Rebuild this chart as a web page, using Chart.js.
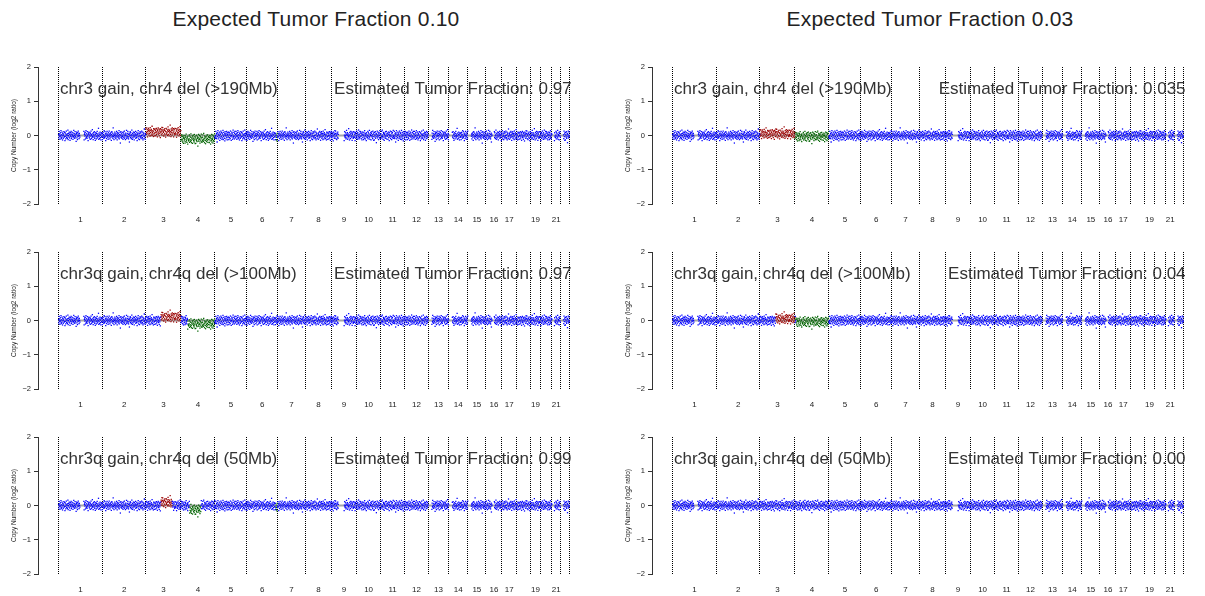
<!DOCTYPE html>
<html><head><meta charset="utf-8">
<script src="https://cdn.jsdelivr.net/npm/chart.js@4/dist/chart.umd.min.js"></script>
<style>
html,body{margin:0;padding:0;background:#fff;width:1205px;height:596px;overflow:hidden;position:relative;font-family:"Liberation Sans",Arial,sans-serif}
.title{position:absolute;top:8px;font-size:21px;letter-spacing:0.2px;line-height:22px;color:#222;text-align:center;width:560px}
canvas{position:absolute}
</style></head><body>
<div class="title" style="left:36px">Expected Tumor Fraction 0.10</div>
<div class="title" style="left:650px">Expected Tumor Fraction 0.03</div>
<canvas id="c0" width="594" height="177" style="left:0;top:57px"></canvas>
<canvas id="c1" width="594" height="177" style="left:614px;top:57px"></canvas>
<canvas id="c2" width="594" height="177" style="left:0;top:242px"></canvas>
<canvas id="c3" width="594" height="177" style="left:614px;top:242px"></canvas>
<canvas id="c4" width="594" height="177" style="left:0;top:427px"></canvas>
<canvas id="c5" width="594" height="177" style="left:614px;top:427px"></canvas>
<script>
// ---- data ----
const chromNames = ['1','2','3','4','5','6','7','8','9','10','11','12','13','14','15','16','17','18','19','20','21','22'];
const chromShownLabels = ['1','2','3','4','5','6','7','8','9','10','11','12','13','14','15','16','17','','19','','21',''];
const chromLenMb = [249.3,243.2,198.0,191.2,180.9,171.1,159.1,146.4,141.2,135.5,135.0,133.9,115.2,107.3,102.5,90.4,81.2,78.1,59.1,63.0,48.1,51.3];
const noDataChr = [1,9,16,13,14,15,21,22];
const noDataStartMb = [121,39,35,0,0,0,0,0];
const noDataEndMb = [143,71,46,19,19,20,14,16];
const binMb = 1.5;
// bin residuals around the segment level, in hundredths of log2 ratio
const residuals = [
3,-7,12,-2,5,-11,0,8,-4,14,-9,2,-6,10,-1,-13,6,4,-8,1,11,-5,-3,9,-15,
7,-2,-10,4,13,-6,2,-1,-8,5,16,-12,0,6,-4,10,-7,3,-14,8,1,-3,12,-9,4,
-5,9,-1,2,-11,7,-3,15,-6,0,5,-8,11,-2,-4,3,-17,6,10,-7,1,-12,8,-3,13,
-1,4,-9,6,0,-5,12,-13,3,7,-2,9,-10,1,14,-6,5,-3,-8,11,-1,2,-15,7,4,
10,-4,-7,1,8,-11,5,-2,13,-9,3,0,-6,17,-3,6,-12,2,9,-5,-1,11,-8,4,-14,
2,8,-3,-10,6,-1,12,-7,4,-4,0,21,-11,7,-2,-9,3,10,-6,1,-13,5,8,-3,-5,
6,-12,1,9,-4,3,-8,14,-1,-6,11,-3,5,-15,2,7,-9,0,12,-5,4,-2,-11,8,1,
-7,13,-2,4,-10,6,1,-5,9,-14,3,11,-4,-1,7,-8,22,-3,2,-12,5,0,10,-6,-2,
4,-9,7,-1,12,-5,-13,2,8,-3,6,-7,0,14,-10,3,-4,9,-22,1,11,-6,5,-2,-8,
9,-3,1,-11,5,10,-6,-2,13,-8,4,0,-12,7,2,-5,15,-9,-1,6,-4,12,-7,3,-10,
-3,7,-19,4,0,11,-6,8,-1,-9,2,16,-5,-11,6,1,-7,10,-2,4,-13,9,-4,0,5,
12,-8,3,-1,-6,9,-15,5,2,-4,14,-10,7,-3,1,-12,6,11,-7,-2,8,-5,0,13,-9,
1,-6,10,-13,4,7,-2,-9,19,-4,0,6,-11,3,9,-7,-1,12,-5,2,-14,8,-3,5,11,
-8,2,6,-4,-12,13,-1,5,-10,8,3,-6,17,-2,-9,4,1,-13,10,-5,7,-3,-11,9,0,
5,-10,-2,11,-7,1,8,-14,4,-3,12,-6,0,9,-11,6,-4,2,-16,10,-1,7,-8,3,14,
-4,6,13,-9,2,-1,-12,7,5,-5,10,-8,3,-15,1,11,-3,-6,8,0,-10,4,15,-7,2,
8,-11,0,5,-3,20,-7,1,-13,9,-2,4,-9,12,6,-5,-1,10,-14,3,7,-4,-8,11,-6,
-2,10,-5,3,-15,6,9,-8,0,-4,13,-1,5,-11,8,-7,2,16,-3,-10,4,-6,12,-1,7,
11,-3,-9,7,1,-13,4,10,-6,2,-1,-12,9,5,-8,14,-4,0,-10,6,3,-15,8,-2,-5,
-6,1,12,-10,8,-2,5,-7,15,-4,-11,3,0,9,-13,6,-1,11,-5,2,-9,13,-3,7,-14,
3,-13,9,-1,-5,11,-8,2,6,-21,4,-3,13,-7,1,10,-2,-12,5,8,-6,0,14,-9,4,
-9,5,-4,12,-1,-7,16,-3,2,-11,9,6,-5,-14,3,7,-1,-8,11,-4,1,12,-10,5,-2,
7,-1,-11,4,10,-6,3,-15,8,0,-4,13,-9,2,-2,11,-12,6,-5,9,-7,1,15,-3,-8,
0,12,-5,-9,6,2,-19,8,-3,14,-10,4,1,-6,10,-1,-14,7,3,-8,13,-4,-2,9,-11,
6,-7,2,15,-12,-3,9,1,-8,5,-16,11,-1,4,-10,7,-5,12,0,-13,3,8,-6,-2,10,
-12,4,8,-6,1,-9,13,-2,5,-14,0,10,-4,7,-11,2,16,-7,-3,9,-1,-10,6,12,-5
];
// copy-number segments per panel: [chromosome, startMb, endMb, log2 level]
const segments010big = [[3,0,199,0.10],[4,0,192,-0.10],[6,164,172,-0.08]];
const segments003big = [[3,0,199,0.05],[4,0,192,-0.03]];
const segments010mid = [[3,84,199,0.10],[4,37,192,-0.10]];
const segments003mid = [[3,88,199,0.05],[4,5,192,-0.04]];
const segments010small = [[3,84,148,0.09],[4,48,113,-0.12],[6,162,172,-0.08]];
const segments003small = [];
const eventLabels = ['chr3 gain, chr4 del (>190Mb)','chr3q gain, chr4q del (>100Mb)','chr3q gain, chr4q del (50Mb)'];
const estimatedTF = ['0.97','0.035','0.97','0.04','0.99','0.00'];
const yTicks = [-2,-1,0,1,2];

// ---- build ----
const chromStart = [];
let acc = 0;
chromLenMb.forEach(l => { chromStart.push(acc); acc += l; });
const genomeLen = acc;
const boundaries = chromStart.concat([genomeLen]);
const centers = chromStart.map((s,i) => s + chromLenMb[i]/2);

function inGap(chr, p){
  for (let i=0;i<noDataChr.length;i++){
    if (noDataChr[i]===chr && p>=noDataStartMb[i] && p<=noDataEndMb[i]) return true;
  }
  return false;
}
function buildPoints(segs){
  const blue=[],red=[],green=[],base=[];
  let k=0;
  chromLenMb.forEach((len,ci)=>{
    const chr=ci+1;
    for (let p=binMb/2; p<len; p+=binMb){
      if (inGap(chr,p)) continue;
      let lvl=0;
      for (const s of segs){ if (s[0]===chr && p>=s[1] && p<=s[2]) lvl=s[3]; }
      const pt={x:chromStart[ci]+p, y:lvl+residuals[k%residuals.length]/100};
      k++;
      (lvl>0?red:(lvl<0?green:blue)).push(pt);
    }
    base.push({x:chromStart[ci],y:0},{x:chromStart[ci]+len,y:0},{x:chromStart[ci]+len,y:null});
  });
  return {blue,red,green,base};
}

const annotPlugin = {
  id:'annot',
  afterDatasetsDraw(chart, args, opts){
    const {ctx, scales:{x,y}} = chart;
    ctx.save();
    ctx.font = '17px "Liberation Sans", Arial, sans-serif';
    ctx.fillStyle = '#333';
    ctx.textBaseline = 'middle';
    ctx.textAlign = 'left';
    ctx.fillText(opts.left, x.getPixelForValue(0)+1.5, y.getPixelForValue(1.35));
    ctx.textAlign = 'right';
    ctx.fillText(opts.right, x.getPixelForValue(genomeLen)+2, y.getPixelForValue(1.35));
    ctx.restore();
  }
};

const panelSegs = [segments010big,segments003big,segments010mid,segments003mid,segments010small,segments003small];
const pad = genomeLen*0.04;
const ptBase = {type:'scatter', pointStyle:'rect', pointRadius:0.9, borderWidth:0, order:1};

panelSegs.forEach((segs, i) => {
  const d = buildPoints(segs);
  new Chart(document.getElementById('c'+i), {
    type:'scatter',
    data:{datasets:[
      {type:'line', data:d.base, borderColor:'rgba(150,150,150,0.85)', borderWidth:2, pointRadius:0, spanGaps:false, order:3},
      Object.assign({data:d.blue, backgroundColor:'#0000ff'}, ptBase),
      Object.assign({data:d.red, backgroundColor:'#9a0000'}, ptBase),
      Object.assign({data:d.green, backgroundColor:'#006400'}, ptBase)
    ]},
    options:{
      responsive:false, animation:false, devicePixelRatio:1,
      layout:{padding:{top:10,right:0,bottom:0,left:0}},
      plugins:{legend:{display:false}, tooltip:{enabled:false}, title:{display:false},
        annot:{left:eventLabels[Math.floor(i/2)], right:'Estimated Tumor Fraction: '+estimatedTF[i]}},
      scales:{
        x:{type:'linear', position:'bottom', min:-pad, max:genomeLen+pad, offset:false,
          afterBuildTicks(ax){ ax.ticks = boundaries.map(v=>({value:v})); },
          afterFit(ax){ ax.height = 0; },
          ticks:{display:false},
          grid:{display:true, drawOnChartArea:true, drawTicks:false, color:'#000', lineWidth:1},
          border:{display:false, dash:[1,1]}
        },
        xl:{type:'linear', position:'bottom', min:-pad, max:genomeLen+pad, offset:false,
          afterBuildTicks(ax){ ax.ticks = centers.map(v=>({value:v})); },
          afterFit(ax){ ax.height = 30; },
          ticks:{autoSkip:false, maxRotation:0, padding:3, color:'#222', font:{size:8, family:'"Liberation Sans", Arial, sans-serif'},
            callback:(v,idx)=>chromShownLabels[idx]},
          grid:{display:false}, border:{display:false}
        },
        y:{type:'linear', min:-2, max:2,
          afterBuildTicks(ax){ ax.ticks = yTicks.map(v=>({value:v})); },
          afterFit(ax){ ax.width = 38; },
          ticks:{padding:3, color:'#222', font:{size:7.5, family:'"Liberation Sans", Arial, sans-serif'},
            callback:v=>String(v).replace('-','\u2212')},
          grid:{drawOnChartArea:false, drawTicks:true, tickLength:4, color:'#333'},
          border:{display:true, color:'#333', width:1},
          title:{display:true, text:'Copy Number (log2 ratio)', color:'#222', padding:{top:10,bottom:0},
            font:{size:6.5, family:'"Liberation Sans", Arial, sans-serif'}}
        }
      }
    },
    plugins:[annotPlugin]
  });
});
</script>
</body></html>
